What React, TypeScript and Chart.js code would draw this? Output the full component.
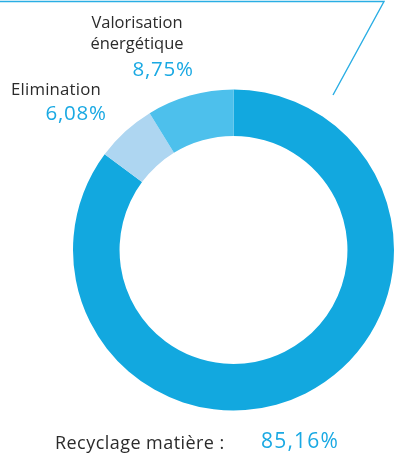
import React, { useEffect, useRef } from "react";
import { Chart, registerables } from "chart.js";

Chart.register(...registerables);

const categories = ["Recyclage matière :", "Elimination", "Valorisation énergétique"];
const values = [85.16, 6.08, 8.75];
const valueLabels = ["85,16%", "6,08%", "8,75%"];
const colors = ["#12a8df", "#aed6f1", "#4dc0ec"];

const FONT = "'Open Sans', 'Noto Sans', sans-serif";
const DARK = "#2b2b2b";
const BLUE = "#1aa9e3";

const linePlugin = {
  id: "decoLine",
  afterDraw(chart: any) {
    const ctx = chart.ctx;
    ctx.save();
    ctx.strokeStyle = "#2aaee4";
    ctx.lineWidth = 1.4;
    ctx.beginPath();
    ctx.moveTo(0, 1.5);
    ctx.lineTo(384, 1.5);
    ctx.lineTo(333, 95);
    ctx.stroke();
    ctx.restore();
  },
};

function Label(props: { text: string; x: number; baseline: number; size: number; color: string; align?: "left" | "center" | "right"; spacing?: number }) {
  const { text, x, baseline, size, color, align = "left", spacing = 0 } = props;
  const top = baseline - 0.888 * size;
  const style: React.CSSProperties = {
    position: "absolute",
    top,
    fontFamily: FONT,
    fontSize: size,
    lineHeight: size + "px",
    letterSpacing: spacing,
    color,
    whiteSpace: "nowrap",
  };
  if (align === "left") style.left = x;
  else if (align === "right") style.right = 394 - x - spacing;
  else {
    style.left = x - 200;
    style.width = 400;
    style.textAlign = "center";
  }
  return <div style={style}>{text}</div>;
}

export default function App() {
  const ref = useRef<HTMLCanvasElement | null>(null);
  useEffect(() => {
    document.body.style.margin = "0";
    const chart = new Chart(ref.current as HTMLCanvasElement, {
      type: "doughnut",
      data: {
        labels: categories,
        datasets: [
          {
            data: values,
            backgroundColor: colors,
            borderWidth: 0,
          },
        ],
      },
      options: {
        animation: false,
        responsive: false,
        cutout: "71%",
        layout: { padding: { left: 73, right: 0, top: 89, bottom: 42 } },
        plugins: { legend: { display: false }, tooltip: { enabled: false } },
      },
      plugins: [linePlugin],
    });
    return () => chart.destroy();
  }, []);

  const valoWords = categories[2].split(" ");
  return (
    <div style={{ position: "relative", width: 394, height: 453, background: "#fff", overflow: "hidden" }}>
      <canvas ref={ref} width={394} height={453} style={{ position: "absolute", left: 0, top: 0 }} />
      <Label text={valoWords[0]} x={137} baseline={29} size={16.5} color={DARK} align="center" />
      <Label text={valoWords[1]} x={137} baseline={50} size={16.5} color={DARK} align="center" />
      <Label text={valueLabels[2]} x={193} baseline={76} size={20.5} spacing={0.8} color={BLUE} align="right" />
      <Label text={categories[1]} x={11} baseline={96} size={16.8} spacing={0.2} color={DARK} />
      <Label text={valueLabels[1]} x={106} baseline={120} size={20.5} spacing={0.8} color={BLUE} align="right" />
      <Label text={categories[0]} x={55} baseline={449} size={18} spacing={0.45} color={DARK} />
      <Label text={valueLabels[0]} x={261} baseline={449} size={21} spacing={1.2} color={BLUE} />
    </div>
  );
}
